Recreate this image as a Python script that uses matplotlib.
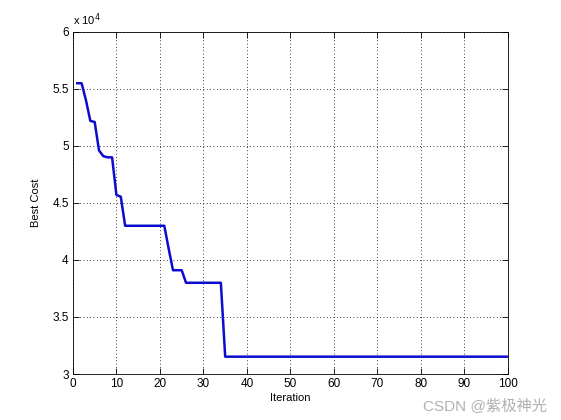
import matplotlib
matplotlib.use("Agg")
import matplotlib.pyplot as plt
import numpy as np

plt.rcParams['font.family'] = ['Liberation Sans', 'Noto Sans CJK SC', 'DejaVu Sans']

iterations = list(range(1, 101))
best_cost_head = [5.55, 5.55, 5.40, 5.22, 5.21, 4.96, 4.91, 4.90, 4.90, 4.57,
                  4.555, 4.30, 4.30, 4.30, 4.30, 4.30, 4.30, 4.30, 4.30, 4.30,
                  4.30, 4.10, 3.91, 3.91, 3.91, 3.80, 3.80, 3.80, 3.80, 3.80,
                  3.80, 3.80, 3.80, 3.80]
best_cost_tail_value = 3.152
best_cost = best_cost_head + [best_cost_tail_value] * (100 - len(best_cost_head))
best_cost = np.array(best_cost) * 1e4

xticks = list(range(0, 101, 10))
yticks = [3, 3.5, 4, 4.5, 5, 5.5, 6]
ytick_labels = ['3', '3.5', '4', '4.5', '5', '5.5', '6']

fig = plt.figure(figsize=(5.61, 4.2), dpi=100)
ax = fig.add_axes([0.13, 0.1095, 0.7755, 0.8145])
ax.plot(iterations, best_cost, color='#0c0cd0', linewidth=1.8)
ax.set_xlim(0, 100)
ax.set_ylim(3e4, 6e4)
ax.set_xticks(xticks)
ax.set_yticks([v * 1e4 for v in yticks])
ax.set_yticklabels(ytick_labels)
ax.tick_params(direction='in', top=True, right=True, labelsize=8.5, length=4, width=0.6, pad=3)
ax.grid(True, linestyle=(0, (1, 3)), color='black', linewidth=0.6)
for s in ax.spines.values():
    s.set_linewidth(0.6)
ax.set_xlabel('Iteration', fontsize=8, labelpad=2)
ax.set_ylabel('Best Cost', fontsize=8, labelpad=8)
ax.text(0.0, 1.01, r'x 10$^{4}$', transform=ax.transAxes, fontsize=8, ha='left', va='bottom')
fig.text(0.975, 0.035, 'CSDN @紫极神光', fontsize=11, color='#b0b0b0', ha='right', va='center',
         family=['Liberation Sans', 'Noto Sans CJK SC'])
fig.savefig('out.png', dpi=100)
